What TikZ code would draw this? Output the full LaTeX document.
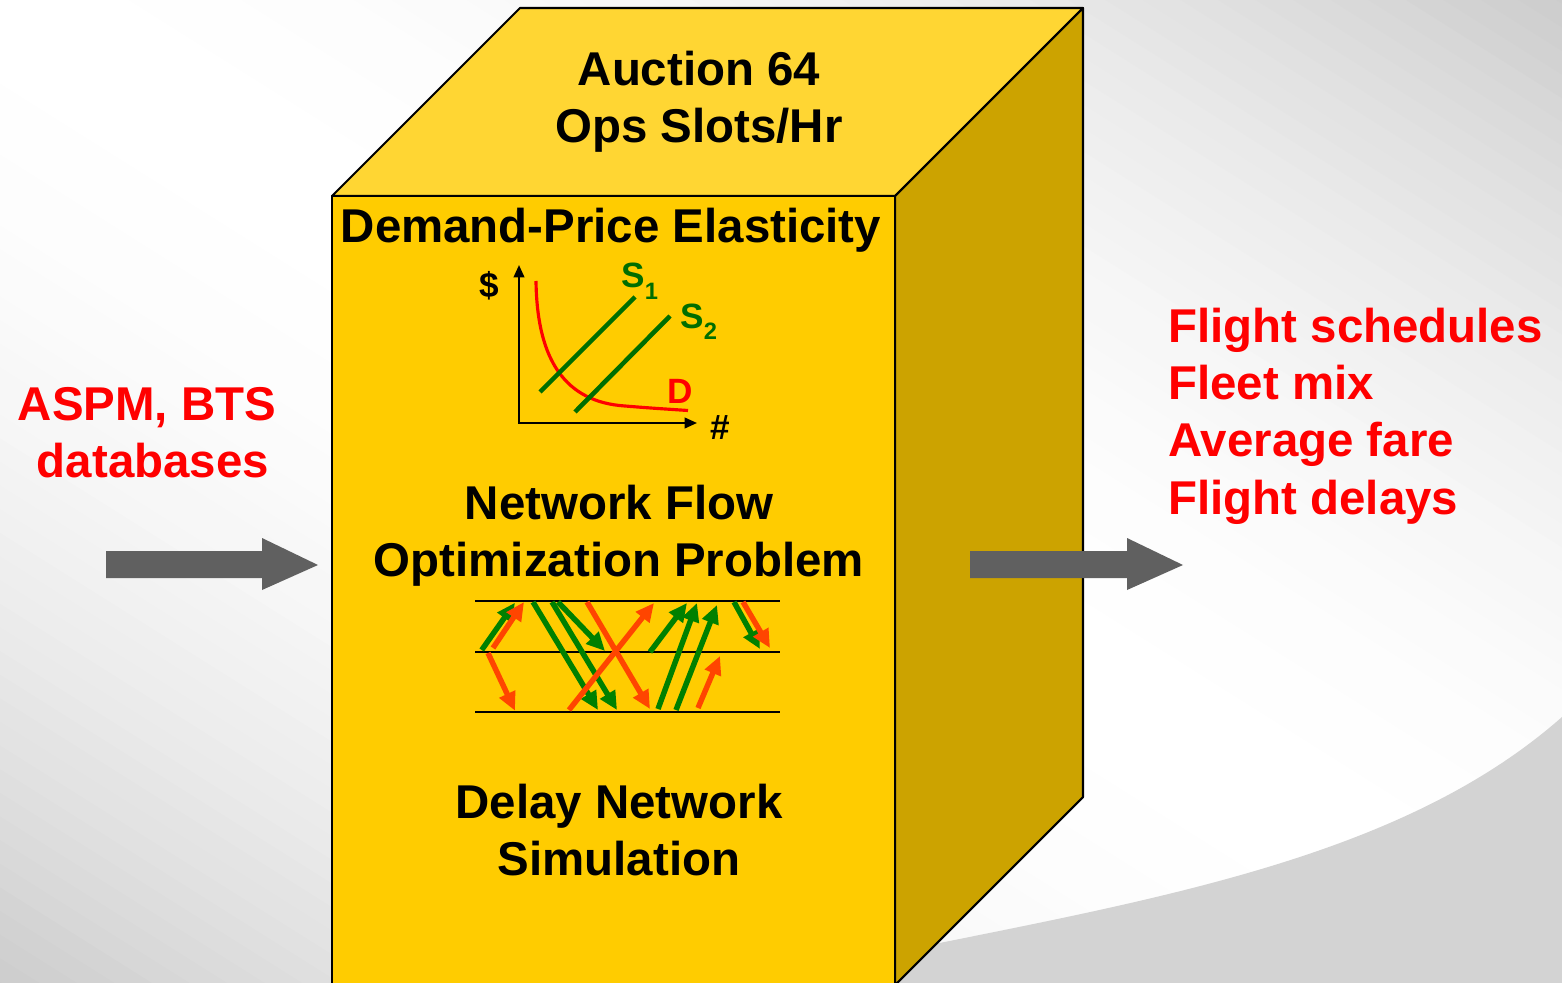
\documentclass[tikz,border=0pt]{standalone}
\usepackage{fontspec}
\setmainfont{Liberation Sans}
\usetikzlibrary{arrows.meta}
\definecolor{swoosh}{HTML}{D3D3D3}
\definecolor{frontY}{HTML}{FFCC00}
\definecolor{topY}{HTML}{FFD633}
\definecolor{sideY}{HTML}{CCA300}
\definecolor{blockgrey}{HTML}{606060}
\definecolor{netgreen}{HTML}{008000}
\definecolor{netred}{HTML}{FF4500}
\definecolor{supgreen}{HTML}{006E00}
\definecolor{txtred}{HTML}{FF0000}
\tikzset{
  face/.style={draw=black, line width=1.2pt, line join=round},
  bigtext/.style={inner sep=0pt, align=center, font=\bfseries\fontsize{27}{32.6}\selectfont},
  redtext/.style={bigtext, text=txtred},
  graphtext/.style={inner sep=0pt, font=\bfseries\fontsize{20}{20}\selectfont},
  netarrow/.style={line width=3.1pt, -{Triangle[length=10.5pt,width=9.5pt]}},
  garr/.style={netarrow, netgreen},
  rarr/.style={netarrow, netred},
  levelline/.style={draw=black, line width=1.1pt},
  blockarrow/.style={fill=blockgrey, draw=none}
}
\begin{document}
\begin{tikzpicture}[x=0.02cm, y=-0.02cm]
\useasboundingbox (0,0) rectangle (1562,983);
% background: diagonal gradient built from strips
\begin{scope}
\clip (0,0) rectangle (1562,983);
\fill[white] (0,0) rectangle (1562,983);
\foreach \s in {-880,-860,...,880}{
  \pgfmathsetmacro\gv{min(20,20*(\s/832)^2)}
  \pgfmathsetmacro\pax{781+(\s-11)*0.5326-1100*0.8463}
  \pgfmathsetmacro\pay{491.5-(\s-11)*0.8463-1100*0.5326}
  \pgfmathsetmacro\pbx{781+(\s-11)*0.5326+1100*0.8463}
  \pgfmathsetmacro\pby{491.5-(\s-11)*0.8463+1100*0.5326}
  \pgfmathsetmacro\pcx{781+(\s+11)*0.5326+1100*0.8463}
  \pgfmathsetmacro\pcy{491.5-(\s+11)*0.8463+1100*0.5326}
  \pgfmathsetmacro\pdx{781+(\s+11)*0.5326-1100*0.8463}
  \pgfmathsetmacro\pdy{491.5-(\s+11)*0.8463-1100*0.5326}
  \fill[black!\gv] (\pax,\pay) -- (\pbx,\pby) -- (\pcx,\pcy) -- (\pdx,\pdy) -- cycle;
}
\fill[swoosh] (880,955) .. controls (1150,900) and (1400,860) .. (1562,717) -- (1570,717) -- (1570,995) -- (880,995) -- cycle;
\end{scope}

% cube
\filldraw[face, fill=topY] (332,196) -- (520,8) -- (1083,8) -- (895,196) -- cycle;
\filldraw[face, fill=sideY] (895,196) -- (1083,8) -- (1083,797) -- (895,985) -- cycle;
\filldraw[face, fill=frontY] (332,990) -- (332,196) -- (895,196) -- (895,990);

% texts in cube
\node[bigtext] (auction) at (699,102) {Auction 64\\Ops Slots/Hr};
\node[bigtext] (elast) at (611,230) {Demand-Price Elasticity};
\node[bigtext] (netflow) at (619,536) {Network Flow\\Optimization Problem};
\node[bigtext] (delay) at (619,830) {Delay Network\\Simulation};

% elasticity graph
\coordinate (yaxtop) at (519,265);
\coordinate (origin) at (519,423);
\coordinate (xaxend) at (697,423);
\draw[line width=1.2pt, {Triangle[length=7pt,width=6pt]}-{Triangle[length=7pt,width=6pt]}] (yaxtop) -- (origin) -- (xaxend);
\draw[txtred, line width=1.8pt] (536,281) .. controls (537,360) and (565,402) .. (625,406) .. controls (650,408) .. (688,410.5);
\draw[supgreen, line width=2.6pt] (540,392) -- (635,297);
\draw[supgreen, line width=2.6pt] (575,412) -- (670,316);
\node[graphtext, anchor=base west] (dollar) at (479,297) {\$};
\node[graphtext] (hash) at (720,428) {\#};
\node[graphtext, anchor=base west, text=supgreen] (s1) at (621,288) {S\raisebox{-6.8pt}{\fontsize{13.5}{13.5}\selectfont 1}};
\node[graphtext, anchor=base west, text=supgreen] (s2) at (680,328) {S\raisebox{-6.8pt}{\fontsize{13.5}{13.5}\selectfont 2}};
\node[graphtext, anchor=base west, text=txtred] (dlab) at (667,403) {D};

% network flow picture
\draw[levelline] (475,601) -- (780,601);
\draw[levelline] (475,652) -- (780,652);
\draw[levelline] (475,712) -- (780,712);
\draw[garr] (481.7,650) -- (515,602.7);
\draw[garr] (533,602) -- (598,710);
\draw[garr] (552,602) -- (617,710);
\draw[garr] (558,602) -- (605,651);
\draw[garr] (650,652) -- (687,603);
\draw[garr] (658,709) -- (697,603);
\draw[garr] (676,710) -- (717,605);
\draw[garr] (734,602) -- (760,649);
\draw[rarr] (493,648) -- (524,602);
\draw[rarr] (488,653) -- (515,710.7);
\draw[rarr] (587,602) -- (650,709);
\draw[rarr] (569,710) -- (654,603);
\draw[rarr] (698,708) -- (720,656);
\draw[rarr] (743,602) -- (770,648);

% block arrows
\fill[blockarrow] (106,551) -- (262,551) -- (262,538) -- (318,565) -- (262,590) -- (262,578) -- (106,578) -- cycle;
\fill[blockarrow] (970,551) -- (1127,551) -- (1127,538) -- (1183,565) -- (1127,590) -- (1127,578) -- (970,578) -- cycle;

% side texts
\node[redtext] (inputs) at (147,433) {ASPM, BTS\\\hspace*{6.8pt}databases};
\node[redtext, anchor=west, align=left] (outputs) at (1168,416) {Flight schedules\\Fleet mix\\Average fare\\Flight delays};
\end{tikzpicture}
\end{document}
